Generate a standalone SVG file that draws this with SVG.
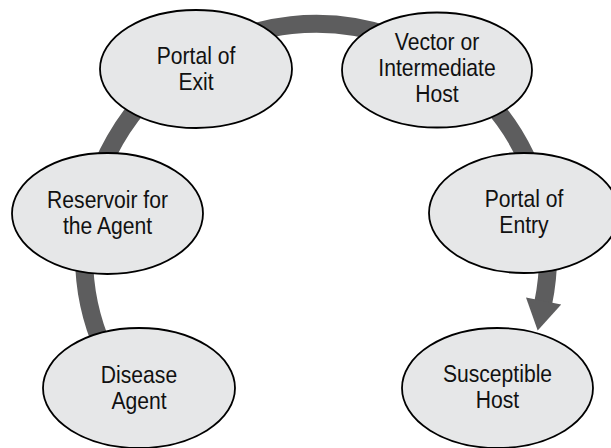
<svg xmlns="http://www.w3.org/2000/svg" width="611" height="448" viewBox="0 0 611 448">
  <style>
    .node ellipse { fill: #e6e7e8; stroke: #000; stroke-width: 1.8; }
    .node text { font-family: "Liberation Sans", Arial, sans-serif; font-size: 24px; fill: #111; text-anchor: middle; }
    .flow { fill: none; stroke: #5d5d5e; stroke-width: 18; stroke-linecap: butt; }
    .head { fill: #5d5d5e; }
  </style>

  <!-- circular chain of infection, drawn behind the nodes -->
  <g id="connectors">
    <path class="flow" d="M 104 350 A 232 232 0 1 1 543.2 303"/>
    <polygon class="head" points="526,297.4 561.2,304.6 537.7,330.4"/>
  </g>

  <!-- labels use a horizontally condensed sans: each label group is centred on its node -->
  <g id="node-disease-agent" class="node">
    <ellipse cx="139" cy="388" rx="96" ry="60"/>
    <g transform="translate(139 0) scale(0.88 1)">
      <text x="0" y="383">Disease</text>
      <text x="0" y="409">Agent</text>
    </g>
  </g>

  <g id="node-reservoir" class="node">
    <ellipse cx="107.5" cy="213.5" rx="95.5" ry="60.5"/>
    <g transform="translate(107.5 0) scale(0.88 1)">
      <text x="0" y="208">Reservoir for</text>
      <text x="0" y="234">the Agent</text>
    </g>
  </g>

  <g id="node-portal-exit" class="node">
    <ellipse cx="196" cy="69" rx="96" ry="59"/>
    <g transform="translate(196 0) scale(0.88 1)">
      <text x="0" y="64">Portal of</text>
      <text x="0" y="90">Exit</text>
    </g>
  </g>

  <g id="node-vector" class="node">
    <ellipse cx="437" cy="70" rx="95" ry="57.5"/>
    <g transform="translate(437 0) scale(0.88 1)">
      <text x="0" y="50">Vector or</text>
      <text x="0" y="76">Intermediate</text>
      <text x="0" y="102">Host</text>
    </g>
  </g>

  <g id="node-portal-entry" class="node">
    <ellipse cx="524" cy="213" rx="95" ry="60"/>
    <g transform="translate(524 0) scale(0.88 1)">
      <text x="0" y="207">Portal of</text>
      <text x="0" y="233">Entry</text>
    </g>
  </g>

  <g id="node-susceptible-host" class="node">
    <ellipse cx="497.5" cy="388" rx="95.5" ry="60"/>
    <g transform="translate(497.5 0) scale(0.88 1)">
      <text x="0" y="382">Susceptible</text>
      <text x="0" y="408">Host</text>
    </g>
  </g>
</svg>
